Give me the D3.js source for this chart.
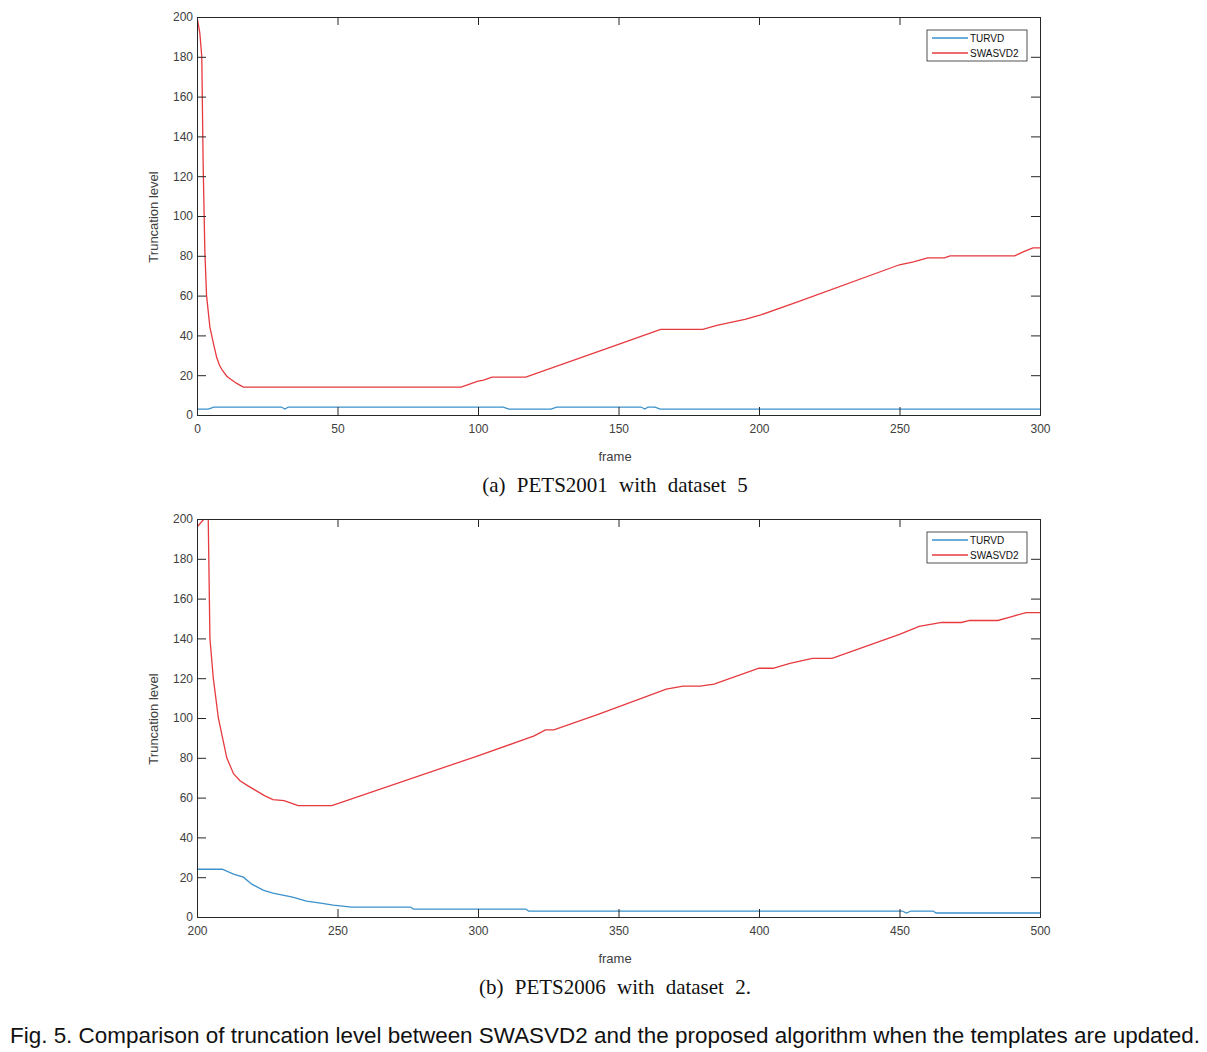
<!DOCTYPE html>
<html>
<head>
<meta charset="utf-8">
<script src="https://d3js.org/d3.v7.min.js"></script>
<style>
  body { margin: 0; background: #fff; }
  svg { display: block; }
</style>
</head>
<body>
<script>
// values, [frame, truncation level]
var aTurvd = [[0, 3], [4, 3], [6, 4], [30, 4], [31.3, 3], [32.5, 4], [109, 4],
    [111, 3], [126, 3], [128, 4], [158, 4], [159.4, 3], [160.5, 4], [163, 4],
    [164.8, 3], [300, 3]];
var aSwasvd = [[0, 200], [1, 192], [1.7, 180], [2.2, 125], [2.8, 82], [3.4, 60],
    [4.6, 44], [6, 35], [7, 29], [8, 25], [9, 22.5], [10.6, 19.5], [12, 18],
    [14, 16], [16.5, 14], [94, 14], [97, 15.5], [100, 17], [102, 17.5],
    [105, 19], [117, 19], [150, 35.5], [160, 40.5], [165, 43], [180, 43],
    [185, 45], [190, 46.5], [195, 48], [200, 50], [214, 57], [250, 75.5],
    [255, 77], [260, 79], [266, 79], [268, 80], [291, 80], [294, 82],
    [297.5, 84], [300, 84]];

var bTurvd = [[200, 24], [209, 24], [213, 21.5], [216.5, 20], [219.5, 16.5],
    [223.5, 13.5], [227, 12], [230.5, 11], [234, 10], [239, 8], [244, 7],
    [248.5, 6], [255, 5], [276, 5], [277, 4], [317, 4], [318, 3], [451, 3],
    [452.5, 2], [454, 3], [462, 3], [463, 2], [500, 2]];
var bSwasvd = [[200, 196], [202.5, 200], [204, 200], [204.6, 140],
    [205.8, 120], [207.6, 100], [210.6, 80], [213, 72], [215.3, 68.5],
    [218, 66], [221, 63.5], [224, 61], [227, 59], [231, 58.5], [234, 57],
    [236, 56], [248, 56], [300, 81], [320, 91], [324, 94], [327, 94],
    [343, 102], [367, 114.5], [373, 116], [379, 116], [384, 117], [400, 125],
    [405, 125], [411, 127.5], [419, 130], [426, 130], [450, 142], [457, 146],
    [465, 148], [472, 148], [475, 149], [485, 149], [490, 151], [495, 153],
    [500, 153]];

var yTicks = [0, 20, 40, 60, 80, 100, 120, 140, 160, 180, 200];
var aXTicks = [0, 50, 100, 150, 200, 250, 300];
var bXTicks = [200, 250, 300, 350, 400, 450, 500];
var seriesNames = ["TURVD", "SWASVD2"];
var seriesColors = ["#3b91cb", "#e63a3f"];

var svg = d3.select("body").append("svg")
    .attr("width", 1207)
    .attr("height", 1052);

var axisColor = "#262626";
var labelColor = "#404040";
var sans = "Liberation Sans, Arial, sans-serif";

function drawPanel(top, xDomain, xTicks, turvd, swasvd, caption) {
    var left = 197, right = 1040, height = 398;
    var x = d3.scaleLinear().domain(xDomain).range([left, right]);
    var y = d3.scaleLinear().domain([0, 200]).range([top + height, top]);
    var g = svg.append("g");

    var clipId = "clip" + top;
    g.append("clipPath").attr("id", clipId)
        .append("rect")
        .attr("x", left).attr("y", top)
        .attr("width", right - left).attr("height", height);

    var line = d3.line()
        .x(function(d) { return x(d[0]); })
        .y(function(d) { return y(d[1]); });

    [turvd, swasvd].forEach(function(data, i) {
        g.append("path")
            .datum(data)
            .attr("clip-path", "url(#" + clipId + ")")
            .attr("fill", "none")
            .attr("stroke", seriesColors[i])
            .attr("stroke-width", 1.3)
            .attr("d", line);
    });

    // MATLAB style box: ticks inward on all four sides
    g.append("g")
        .attr("transform", "translate(0," + (top + height) + ")")
        .call(d3.axisBottom(x).tickValues(xTicks).tickSize(-8).tickPadding(9))
        .call(styleAxis);
    g.append("g")
        .attr("transform", "translate(0," + top + ")")
        .call(d3.axisTop(x).tickValues(xTicks).tickSize(-8).tickFormat(""))
        .call(styleAxis);
    g.append("g")
        .attr("transform", "translate(" + left + ",0)")
        .call(d3.axisLeft(y).tickValues(yTicks).tickSize(-9).tickPadding(4))
        .call(styleAxis);
    g.append("g")
        .attr("transform", "translate(" + right + ",0)")
        .call(d3.axisRight(y).tickValues(yTicks).tickSize(-9).tickFormat(""))
        .call(styleAxis);

    g.append("text")
        .attr("x", 615).attr("y", top + height + 46)
        .attr("text-anchor", "middle")
        .style("font-family", sans).style("font-size", "13px")
        .attr("fill", labelColor)
        .text("frame");

    g.append("text")
        .attr("transform", "translate(158," + (top + 200) + ") rotate(-90)")
        .attr("text-anchor", "middle")
        .style("font-family", sans).style("font-size", "13px")
        .attr("fill", labelColor)
        .text("Truncation level");

    // legend
    var lg = g.append("g").attr("transform", "translate(927," + (top + 13) + ")");
    lg.append("rect")
        .attr("width", 100).attr("height", 31)
        .attr("fill", "#fff")
        .attr("stroke", axisColor).attr("stroke-width", 0.8);
    seriesNames.forEach(function(name, i) {
        lg.append("line")
            .attr("x1", 5).attr("x2", 41)
            .attr("y1", 8 + i * 15).attr("y2", 8 + i * 15)
            .attr("stroke", seriesColors[i]).attr("stroke-width", 1.3);
        lg.append("text")
            .attr("x", 43).attr("y", 12 + i * 15)
            .style("font-family", sans).style("font-size", "10px")
            .attr("fill", "#111")
            .text(name);
    });

    g.append("text")
        .attr("x", 615).attr("y", top + height + 77)
        .attr("text-anchor", "middle")
        .style("font-family", "Liberation Serif, DejaVu Serif, serif")
        .style("font-size", "21px")
        .style("word-spacing", "6px")
        .attr("fill", "#111")
        .text(caption);
}

function styleAxis(sel) {
    sel.select(".domain").attr("stroke", axisColor).attr("stroke-width", 1);
    sel.selectAll(".tick line").attr("stroke", axisColor).attr("stroke-width", 1);
    sel.selectAll(".tick text")
        .style("font-family", sans)
        .style("font-size", "12px")
        .attr("fill", labelColor);
}

drawPanel(17, [0, 300], aXTicks, aTurvd, aSwasvd, "(a) PETS2001 with dataset 5");
drawPanel(519, [200, 500], bXTicks, bTurvd, bSwasvd, "(b) PETS2006 with dataset 2.");

// condensed look: larger glyphs squeezed to the caption's width
svg.append("text")
    .attr("x", 10).attr("y", 1043)
    .attr("textLength", 1190)
    .attr("lengthAdjust", "spacingAndGlyphs")
    .style("font-family", sans)
    .style("font-size", "22px")
    .attr("fill", "#111")
    .text("Fig. 5. Comparison of truncation level between SWASVD2 and the proposed algorithm when the templates are updated.");
</script>
</body>
</html>
